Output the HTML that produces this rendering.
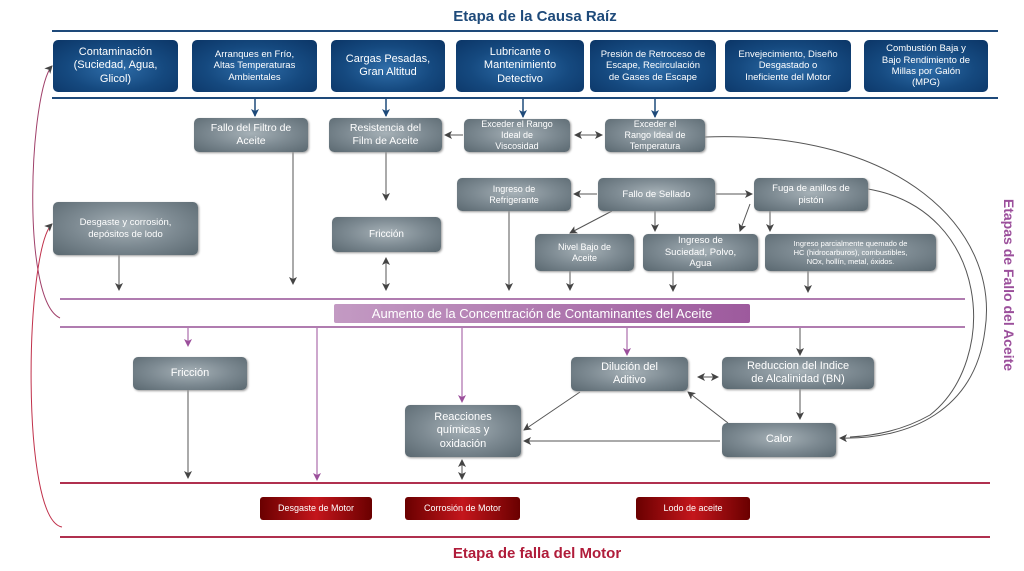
<!DOCTYPE html>
<html><head><meta charset="utf-8"><style>
body{margin:0;width:1024px;height:571px;background:#fff;position:relative;overflow:hidden;font-family:"Liberation Sans",sans-serif}
.b{position:absolute;display:flex;align-items:center;justify-content:center;text-align:center;color:#fff;border-radius:5px;box-sizing:border-box;line-height:1.2}
.bl{background:radial-gradient(ellipse at 50% 55%,#2f6eaa 0%,#15497f 55%,#0b3566 100%);font-size:10px}
.g{background:radial-gradient(ellipse at 50% 45%,#a6b1b7 0%,#7d8a92 50%,#5a6870 100%);font-size:10.5px;box-shadow:1px 1px 2px #999}
.r{background:linear-gradient(90deg,#6a0000,#c4161c 50%,#6a0000);font-size:9px;border-radius:3px}
.t{position:absolute;font-weight:bold;font-size:15px}
</style></head><body>
<svg width="1024" height="571" style="position:absolute;left:0;top:0">
<defs>
<marker id="a" markerWidth="8" markerHeight="8" refX="7" refY="4" orient="auto" markerUnits="userSpaceOnUse"><path d="M0,0L8,4L0,8L2,4z" fill="#444"/></marker>
<marker id="s" markerWidth="8" markerHeight="8" refX="1" refY="4" orient="auto" markerUnits="userSpaceOnUse"><path d="M8,0L0,4L8,8L6,4z" fill="#444"/></marker>
<marker id="bm" markerWidth="8" markerHeight="8" refX="7" refY="4" orient="auto" markerUnits="userSpaceOnUse"><path d="M0,0L8,4L0,8L2,4z" fill="#1e4a7a"/></marker>
<marker id="p" markerWidth="8" markerHeight="8" refX="7" refY="4" orient="auto" markerUnits="userSpaceOnUse"><path d="M0,0L8,4L0,8L2,4z" fill="#9b4f9b"/></marker>
</defs>
<g stroke="#1e4a7a" stroke-width="2"><line x1="52" y1="31" x2="998" y2="31"/><line x1="52" y1="98" x2="998" y2="98"/></g>
<g stroke="#1e4a7a" stroke-width="1.5" marker-end="url(#bm)"><line x1="255" y1="99" x2="255" y2="116"/><line x1="386" y1="99" x2="386" y2="116"/><line x1="523" y1="99" x2="523" y2="117"/><line x1="655" y1="99" x2="655" y2="117"/></g>
<g stroke="#b07cb0" stroke-width="2"><line x1="60" y1="299" x2="965" y2="299"/><line x1="60" y1="327" x2="965" y2="327"/></g>
<g stroke="#b0304f" stroke-width="2"><line x1="60" y1="483" x2="990" y2="483"/><line x1="60" y1="537" x2="990" y2="537"/></g>
<g stroke="#555" stroke-width="1" fill="none" marker-end="url(#a)">
<line x1="463" y1="135" x2="445" y2="135"/>
<line x1="575" y1="135" x2="602" y2="135" marker-start="url(#s)"/>
<line x1="293" y1="152" x2="293" y2="284"/>
<line x1="386" y1="152" x2="386" y2="200"/>
<line x1="386" y1="258" x2="386" y2="290" marker-start="url(#s)"/>
<line x1="119" y1="255" x2="119" y2="290"/>
<line x1="597" y1="194" x2="574" y2="194"/>
<line x1="716" y1="194" x2="752" y2="194"/>
<line x1="612" y1="211" x2="570" y2="233"/>
<line x1="655" y1="211" x2="655" y2="231"/>
<line x1="750" y1="204" x2="740" y2="231"/>
<line x1="770" y1="211" x2="770" y2="231"/>
<line x1="509" y1="211" x2="509" y2="290"/>
<line x1="570" y1="271" x2="570" y2="290"/>
<line x1="673" y1="271" x2="673" y2="291"/>
<line x1="808" y1="271" x2="808" y2="292"/>
<line x1="188" y1="390" x2="188" y2="478"/>
<line x1="698" y1="377" x2="718" y2="377" marker-start="url(#s)"/>
<line x1="800" y1="389" x2="800" y2="419"/>
<line x1="720" y1="441" x2="524" y2="441"/>
<line x1="580" y1="392" x2="524" y2="430"/>
<line x1="728" y1="423" x2="688" y2="392"/>
<line x1="462" y1="460" x2="462" y2="479" marker-start="url(#s)"/>
<path d="M705,137 C900,130 1000,230 985,330 C975,410 910,440 840,438"/>
<path d="M868,189 C990,210 1000,360 930,415 C900,432 870,436 850,437" marker-end="none"/>
<path d="M60,318 C20,300 30,90 52,66" stroke="#a0406a"/>
<path d="M62,527 C20,520 25,250 52,224" stroke="#c0304a"/>
</g>
<g stroke="#9b4f9b" stroke-width="1" marker-end="url(#p)">
<line x1="188" y1="328" x2="188" y2="346"/><line x1="317" y1="328" x2="317" y2="480"/><line x1="462" y1="328" x2="462" y2="402"/><line x1="627" y1="328" x2="627" y2="355"/></g>
<line x1="800" y1="328" x2="800" y2="355" stroke="#555" marker-end="url(#a)"/>
</svg>
<div class="t" style="left:0;width:1070px;text-align:center;top:8px;color:#1e4a7a">Etapa de la Causa Raíz</div>
<div class="t" style="left:0;width:1074px;text-align:center;top:545px;color:#b01c3a">Etapa de falla del Motor</div>
<div class="t" style="top:285px;color:#9b4f9b;transform:translate(-50%,-50%) rotate(90deg);white-space:nowrap;font-size:14px;left:1009px">Etapas de Fallo del Aceite</div>
<div class="b bl" style="left:53px;top:40px;width:125px;height:52px;font-size:11px">Contaminación<br>(Suciedad, Agua,<br>Glicol)</div>
<div class="b bl" style="left:192px;top:40px;width:125px;height:52px;font-size:9.5px">Arranques en Frío,<br>Altas Temperaturas<br>Ambientales</div>
<div class="b bl" style="left:331px;top:40px;width:114px;height:52px;font-size:11px">Cargas Pesadas,<br>Gran Altitud</div>
<div class="b bl" style="left:456px;top:40px;width:128px;height:52px;font-size:11px">Lubricante o<br>Mantenimiento<br>Detectivo</div>
<div class="b bl" style="left:590px;top:40px;width:126px;height:52px;font-size:9.5px">Presión de Retroceso de<br>Escape, Recirculación<br>de Gases de Escape</div>
<div class="b bl" style="left:725px;top:40px;width:126px;height:52px;font-size:9.5px">Envejecimiento, Diseño<br>Desgastado o<br>Ineficiente del Motor</div>
<div class="b bl" style="left:864px;top:40px;width:124px;height:52px;font-size:9.5px">Combustión Baja y<br>Bajo Rendimiento de<br>Millas por Galón<br>(MPG)</div>
<div class="b g" style="left:194px;top:118px;width:114px;height:34px">Fallo del Filtro de<br>Aceite</div>
<div class="b g" style="left:329px;top:118px;width:113px;height:34px">Resistencia del<br>Film de Aceite</div>
<div class="b g" style="left:464px;top:119px;width:106px;height:33px;font-size:9px">Exceder el Rango<br>Ideal de<br>Viscosidad</div>
<div class="b g" style="left:605px;top:119px;width:100px;height:33px;font-size:9px">Exceder el<br>Rango Ideal de<br>Temperatura</div>
<div class="b g" style="left:457px;top:178px;width:114px;height:33px;font-size:9px">Ingreso de<br>Refrigerante</div>
<div class="b g" style="left:598px;top:178px;width:117px;height:33px;font-size:9.5px">Fallo de Sellado</div>
<div class="b g" style="left:754px;top:178px;width:114px;height:33px;font-size:9.5px">Fuga de anillos de<br>pistón</div>
<div class="b g" style="left:53px;top:202px;width:145px;height:53px;font-size:9.5px">Desgaste y corrosión,<br>depósitos de lodo</div>
<div class="b g" style="left:332px;top:217px;width:109px;height:35px;font-size:10px">Fricción</div>
<div class="b g" style="left:535px;top:234px;width:99px;height:37px;font-size:9px">Nivel Bajo de<br>Aceite</div>
<div class="b g" style="left:643px;top:234px;width:115px;height:37px;font-size:9.5px">Ingreso de<br>Suciedad, Polvo,<br>Agua</div>
<div class="b g" style="left:765px;top:234px;width:171px;height:37px;font-size:7.5px">Ingreso parcialmente quemado de<br>HC (hidrocarburos), combustibles,<br>NOx, hollín, metal, óxidos.</div>
<div class="b" style="left:334px;top:304px;width:416px;height:19px;background:linear-gradient(90deg,#c39ac3,#9d5a9d);font-size:13px;border-radius:2px">Aumento de la Concentración de Contaminantes del Aceite</div>
<div class="b g" style="left:133px;top:357px;width:114px;height:33px;font-size:11px">Fricción</div>
<div class="b g" style="left:571px;top:357px;width:117px;height:34px;font-size:11px">Dilución del<br>Aditivo</div>
<div class="b g" style="left:722px;top:357px;width:152px;height:32px;font-size:11px">Reduccion del Indice<br>de Alcalinidad (BN)</div>
<div class="b g" style="left:405px;top:405px;width:116px;height:52px;font-size:11px">Reacciones<br>químicas y<br>oxidación</div>
<div class="b g" style="left:722px;top:423px;width:114px;height:34px;font-size:11px">Calor</div>
<div class="b r" style="left:260px;top:497px;width:112px;height:23px">Desgaste de Motor</div>
<div class="b r" style="left:405px;top:497px;width:115px;height:23px">Corrosión de Motor</div>
<div class="b r" style="left:636px;top:497px;width:114px;height:23px">Lodo de aceite</div>
</body></html>
